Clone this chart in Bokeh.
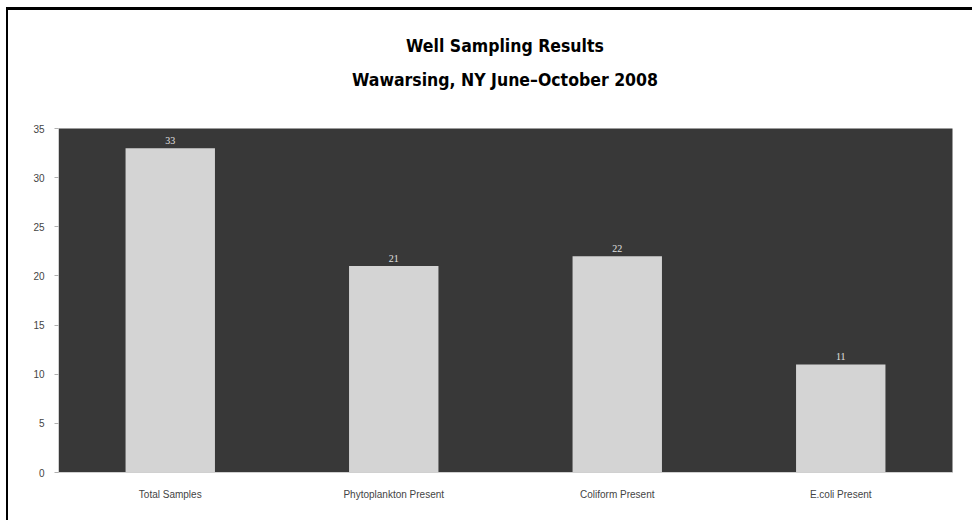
from bokeh.plotting import figure
from bokeh.models import ColumnDataSource, FixedTicker, LabelSet, Div
from bokeh.layouts import column
from bokeh.embed import file_html
from bokeh.resources import INLINE

categories = ["Total Samples", "Phytoplankton Present", "Coliform Present", "E.coli Present"]
counts = [33, 21, 22, 11]
y_ticks = [0, 5, 10, 15, 20, 25, 30, 35]
title_lines = ["Well Sampling Results", "Wawarsing, NY June\u2013October 2008"]

src = ColumnDataSource(dict(cat=categories, n=counts, lab=[str(c) for c in counts]))

p = figure(x_range=categories, y_range=(0, 35), width=964, height=424,
           output_backend="svg", toolbar_location=None,
           min_border_left=50, min_border_right=20, min_border_top=32, min_border_bottom=48)
p.title = None

p.vbar(x="cat", top="n", width=0.4, source=src, fill_color="#d4d4d4", line_color=None)
p.add_layout(LabelSet(x="cat", y="n", text="lab", source=src, text_align="center",
                      text_baseline="bottom", y_offset=4, text_font_size="10px",
                      text_color="#e0e0e0", text_font="Liberation Sans"))

p.background_fill_color = "#383838"
p.border_fill_color = "white"
p.outline_line_color = None
p.grid.visible = False

p.yaxis.ticker = FixedTicker(ticks=y_ticks)
p.yaxis.minor_tick_line_color = None
for ax in (p.xaxis, p.yaxis):
    ax.axis_line_color = "#d0d0d0"
    ax.major_tick_line_color = "#b0b0b0"
    ax.major_tick_out = 4
    ax.major_tick_in = 0
    ax.major_label_text_font_size = "10px"
    ax.major_label_text_color = "#444444"
    ax.major_label_text_font = "Liberation Sans"
p.xaxis.major_tick_line_color = None
p.xaxis.major_label_standoff = 12
p.yaxis.major_label_standoff = 10
p.x_range.range_padding = 0

title_html = (
    '<div style="width:964px; box-sizing:border-box; padding:19px 20px 0 50px; '
    'text-align:center; font-family:\'DejaVu Sans Condensed\', Roboto, sans-serif; '
    'font-weight:bold; font-size:17.5px; line-height:34px; color:black;">'
    + "<br>".join(title_lines) + "</div>"
)
head = Div(text=title_html, width=964, height=86, margin=(0, 0, 0, 0))

layout = column(head, p, spacing=0)
layout.styles = {"border-top": "3px solid black", "border-left": "2px solid black",
                 "margin-left": "6px", "margin-top": "7px", "background": "white"}

open("out.html", "w").write(file_html(layout, INLINE))
